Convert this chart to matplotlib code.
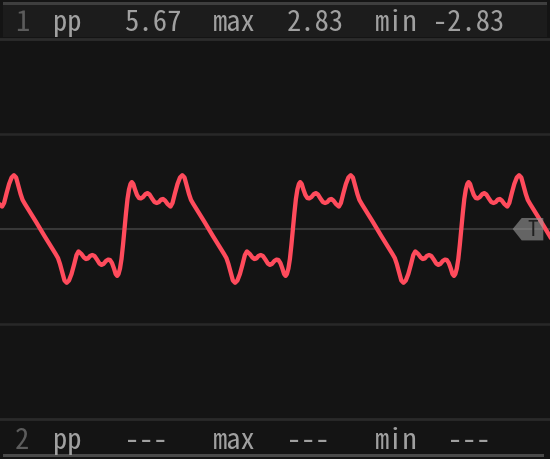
import matplotlib
matplotlib.use("Agg")
import matplotlib.pyplot as plt
from matplotlib.patches import Rectangle, Polygon
import numpy as np

# ---- data ----
# one cycle of channel 1, offsets (µs) from the rising-edge centre, volts
cycle_offset_us = [-84.2, -80, -76, -72, -68.8, -66.5, -64.5, -62.2, -60, -57.8,
                   -55.5, -53, -50.5, -48, -46, -43, -40.5, -38.5, -36.5, -34.5,
                   -32.2, -30, -27.5, -25, -23, -21, -18.5, -16.3, -14.5, -12.5,
                   -10.5, -8.8, -7.3, -6, -4.5, -3, -1.5, 0, 1.5, 3, 4.5, 6, 7.3,
                   8.8, 10.5, 12.5, 14.5, 16.3, 18.5, 21, 23, 25, 27.5, 30, 32.2,
                   34.5, 36.5, 38.5, 40.5, 43, 46, 48, 50.5, 53, 55.5, 57.8, 60,
                   62.2, 64.5, 66.5, 68.8, 72, 76, 80]
cycle_volts = [0.00, -0.37, -0.71, -1.05, -1.32, -1.53, -1.84, -2.29, -2.71, -2.83,
               -2.71, -2.37, -1.89, -1.37, -1.18, -1.32, -1.50, -1.58, -1.55, -1.42,
               -1.37, -1.42, -1.61, -1.82, -1.89, -1.84, -1.68, -1.61, -1.63, -1.79,
               -2.08, -2.37, -2.47, -2.37, -2.08, -1.58, -0.84, 0.00, 0.84, 1.58, 2.08,
               2.37, 2.47, 2.37, 2.08, 1.79, 1.63, 1.61, 1.68, 1.84, 1.89, 1.82, 1.61,
               1.42, 1.37, 1.42, 1.55, 1.58, 1.50, 1.32, 1.18, 1.37, 1.89, 2.37, 2.71,
               2.83, 2.71, 2.29, 1.84, 1.53, 1.32, 1.05, 0.71, 0.37]
# rising-edge centres of the visible cycles (µs)
rise_times_us = [-43.9, 124.5, 292.9, 461.3, 629.7]

trigger_level_v = 0.0
screen_span_us = (0, 550)
volts_range = (-10, 10)
grid_levels_v = [-5, 5]

header_labels = ["1", "pp", "5.67", "max", "2.83", "min", "-2.83"]
footer_labels = ["2", "pp", "---", "max", "---", "min", "---"]
header_x_px = [15, 53, 125, 213, 287, 375, 433]
footer_x_px = [15, 53, 125, 213, 287, 375, 448]

# ---- figure ----
W, H = 550, 460
fig = plt.figure(figsize=(W / 100, H / 100), dpi=100)
fig.patch.set_facecolor("#141414")

def fy(ypx):
    return 1 - ypx / H

def fx(xpx):
    return xpx / W

# header band
fig.patches.append(Rectangle((fx(3), fy(38)), fx(544), 35 / H, transform=fig.transFigure,
                             facecolor="#1c1c1c", edgecolor="none", zorder=0))
fig.patches.append(Rectangle((fx(3), fy(6)), fx(544), 3 / H, transform=fig.transFigure,
                             facecolor="#3e3e3e", edgecolor="none", zorder=1))
# footer bottom line
fig.patches.append(Rectangle((fx(3), fy(458)), fx(541), 3 / H, transform=fig.transFigure,
                             facecolor="#4a4a4a", edgecolor="none", zorder=1))

ax = fig.add_axes([0, 40 / H, 1, 380 / H])
ax.set_facecolor("#141414")
ax.patch.set_alpha(0)
for s in ax.spines.values():
    s.set_visible(False)
ax.set_xticks([])
ax.set_yticks([])
ax.set_xlim(*screen_span_us)
ax.set_ylim(*volts_range)

for g in grid_levels_v:
    ax.axhline(g, color="#282828", lw=1.8, zorder=1)
ax.axhline(volts_range[1], color="#2c2c2c", lw=2.0, zorder=1, clip_on=False)
ax.axhline(volts_range[0], color="#2a2a2a", lw=2.0, zorder=1, clip_on=False)
ax.axhline(trigger_level_v, color="#383838", lw=1.5, zorder=1)

t_all, v_all = [], []
for r in rise_times_us:
    t_all.extend([r + o for o in cycle_offset_us])
    v_all.extend(cycle_volts)
ax.plot(t_all, v_all, color="#ff4b5c", lw=3.1, solid_joinstyle="round",
        solid_capstyle="round", zorder=3)

mono = ["Noto Sans Mono CJK SC", "DejaVu Sans Mono"]

# trigger marker
tv = trigger_level_v
marker = Polygon([(512.7, tv), (521.7, tv + 0.58), (543.3, tv + 0.58),
                  (543.3, tv - 0.60), (521.7, tv - 0.60)], closed=True,
                 facecolor="#9a9a9a", alpha=0.6, edgecolor="none", zorder=4)
ax.add_patch(marker)
ax.text(533, tv, "T", color="#202020", fontsize=15, ha="center", va="center",
        family=mono, zorder=5)

for i, (lab, x) in enumerate(zip(header_labels, header_x_px)):
    fig.text(fx(x), fy(31), lab, color="#5c5c5c" if i == 0 else "#a0a0a0",
             fontsize=20.5, family=mono, ha="left", va="baseline")
for i, (lab, x) in enumerate(zip(footer_labels, footer_x_px)):
    fig.text(fx(x), fy(449), lab, color="#5c5c5c" if i == 0 else "#a0a0a0",
             fontsize=20.5, family=mono, ha="left", va="baseline")

fig.savefig("out.png", dpi=100, facecolor=fig.get_facecolor())
